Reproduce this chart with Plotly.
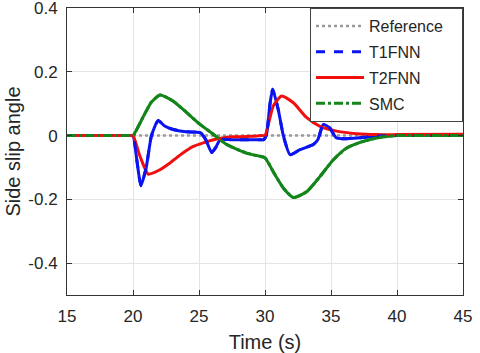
"""
Side slip angle response: Reference vs T1FNN / T2FNN / SMC
"""
import plotly.graph_objects as go

# --- data ---
t_ref = [15, 45]
ref = [0, 0]

t_t1 = [15, 19.0, 19.8, 20, 20.3, 20.6, 21.0, 21.4, 21.9, 22.4, 23.05, 24.0, 25.1, 25.5,
        25.96, 26.3, 26.6, 27.5, 28.5, 29.6, 29.9, 30.1, 30.38, 30.58, 31.0, 31.4,
        31.9, 32.65, 33.66, 34.0, 34.42, 34.9, 35.4, 35.9, 37.2, 38.5, 40, 45]
t1fnn = [0, 0, 0, 0, -0.08, -0.157, -0.1, 0.0, 0.047, 0.03, 0.019, 0.012, 0.009, -0.012,
         -0.053, -0.035, -0.013, -0.013, -0.013, -0.013, -0.013, 0.0, 0.1, 0.145, 0.082, -0.002,
         -0.06, -0.044, -0.028, -0.013, 0.035, 0.024, -0.007, -0.01, -0.007, -0.002, 0, 0]

t_t2 = [15, 19.0, 19.8, 20, 20.53, 21.16, 22.0, 22.8, 23.7, 24.57, 26.1, 27.6, 29.0, 29.8, 30.0,
        30.63, 31.26, 32.15, 33.16, 34.17, 35.43, 36.95, 38.5, 40, 45]
t2fnn = [0, 0, 0, 0, -0.065, -0.121, -0.108, -0.086, -0.057, -0.034, -0.013, -0.004, -0.002, 0.0, 0.0,
         0.093, 0.124, 0.103, 0.056, 0.029, 0.014, 0.006, 0.003, 0.003, 0.004]

t_smc = [15, 19.0, 19.8, 20, 20.8, 21.4, 22.05, 23.05, 24.07, 25.08, 25.96, 27.1, 28.6, 29.6,
         30.0, 30.76, 31.4, 32.15, 33.16, 34.17, 35.18, 36.19, 37.45, 38.97, 40, 45]
smc = [0, 0, 0, 0, 0.061, 0.105, 0.127, 0.108, 0.072, 0.035, 0.008, -0.028, -0.055, -0.065,
       -0.07, -0.123, -0.165, -0.194, -0.176, -0.128, -0.076, -0.039, -0.018, -0.004, 0, 0]

BLUE, RED, GREEN = '#0a14f0', '#f00f0f', '#13851a'
curva = dict(width=3, shape='spline', smoothing=0.55)

fig = go.Figure()

# referência
fig.add_trace(go.Scatter(x=t_ref, y=ref, name='Reference\u00a0\u00a0\u00a0', mode='lines',
                         line=dict(color='#9a9a9a', width=2.5, dash='dot'),
                         legendrank=1, legendgroup='ref'))

# traços sólidos por baixo (curvas densas parecem contínuas no original)
fig.add_trace(go.Scatter(x=t_t1, y=t1fnn, mode='lines', showlegend=False, hoverinfo='skip',
                         line=dict(color=BLUE, **curva), legendgroup='t1'))
fig.add_trace(go.Scatter(x=t_smc, y=smc, mode='lines', showlegend=False, hoverinfo='skip',
                         line=dict(color=GREEN, **curva), legendgroup='smc'))
fig.add_trace(go.Scatter(x=t_t2, y=t2fnn, name='T2FNN', mode='lines',
                         line=dict(color=RED, **curva),
                         legendrank=3, legendgroup='t2'))

# tracejados por cima
fig.add_trace(go.Scatter(x=t_t1, y=t1fnn, name='T1FNN', mode='lines',
                         line=dict(color=BLUE, dash='dash', **curva),
                         legendrank=2, legendgroup='t1'))
fig.add_trace(go.Scatter(x=t_smc, y=smc, name='SMC', mode='lines',
                         line=dict(color=GREEN, dash='dashdot', **curva),
                         legendrank=4, legendgroup='smc'))

fig.update_layout(
    width=480, height=353,
    margin=dict(l=67, r=17, t=8, b=58, autoexpand=False),
    plot_bgcolor='white', paper_bgcolor='white',
    font=dict(family='Liberation Sans, Arial, sans-serif', size=17, color='#262626'),
    showlegend=True,
    legend=dict(x=1, y=1, xanchor='right', yanchor='top',
                bgcolor='white', bordercolor='#444444', borderwidth=1,
                font=dict(size=16, color='#262626'), itemwidth=48,
                tracegroupgap=2),
)

fig.update_xaxes(range=[15, 45], tickvals=[15, 20, 25, 30, 35, 40, 45],
                 title_text='Time (s)', title_standoff=9, automargin=False,
                 ticklabelstandoff=6, ticklabeloverflow='allow',
                 showgrid=True, gridcolor='#e4e4e4', gridwidth=1,
                 showline=True, linecolor='#333333', linewidth=1, mirror='ticks',
                 ticks='inside', ticklen=5, tickcolor='#333333', zeroline=False)
fig.update_yaxes(range=[-0.5, 0.4001], tickvals=[-0.4, -0.2, 0, 0.2, 0.4],
                 ticktext=['-0.4', '-0.2', '0', '0.2', '0.4'],
                 title_text='Side slip angle', title_standoff=2, automargin=False,
                 ticklabelstandoff=5, ticklabeloverflow='allow',
                 showgrid=True, gridcolor='#e4e4e4', gridwidth=1,
                 showline=True, linecolor='#333333', linewidth=1, mirror='ticks',
                 ticks='inside', ticklen=5, tickcolor='#333333', zeroline=False)

# remove a margem padrão do <body> para a figura ocupar a janela inteira
fig.write_html("out.html", config={'displayModeBar': False},
               post_script="document.body.style.margin='0';")
